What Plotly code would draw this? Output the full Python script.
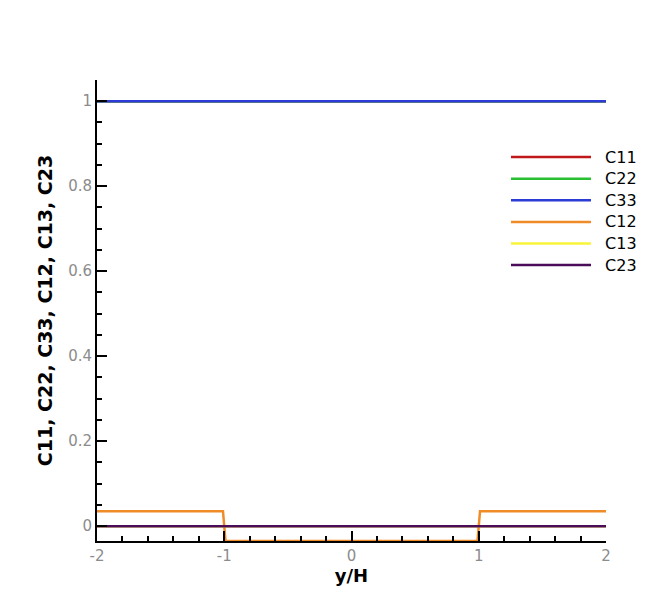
import plotly.graph_objects as go

y_over_h = [-2.0, -1.01, -0.99, 0.99, 1.01, 2.0]
c11 = [1.0, 1.0, 1.0, 1.0, 1.0, 1.0]
c22 = [1.0, 1.0, 1.0, 1.0, 1.0, 1.0]
c33 = [1.0, 1.0, 1.0, 1.0, 1.0, 1.0]
c12 = [0.035, 0.035, -0.035, -0.035, 0.035, 0.035]
c13 = [0.0, 0.0, 0.0, 0.0, 0.0, 0.0]
c23 = [0.0, 0.0, 0.0, 0.0, 0.0, 0.0]

series = [
    ("C11", c11, "#c01818"),
    ("C22", c22, "#28c030"),
    ("C33", c33, "#2a3bd6"),
    ("C12", c12, "#f08c28"),
    ("C13", c13, "#f8f438"),
    ("C23", c23, "#4a0c58"),
]

fig = go.Figure()
for name, vals, col in series:
    label = "\u00a0\u00a0<span style='font-size:16px'>" + name + "</span>"
    fig.add_trace(go.Scatter(x=y_over_h, y=vals, mode="lines", name=label,
                             line=dict(color=col, width=2.5)))

tickfont = dict(family="DejaVu Sans", size=15, color="#8c8c8c")
fig.update_layout(
    width=670, height=599,
    margin=dict(l=97, r=64, t=80, b=58),
    plot_bgcolor="white", paper_bgcolor="white",
    showlegend=True,
    legend=dict(x=0.8035, y=0.867, xanchor="left", yanchor="top",
                font=dict(family="DejaVu Sans", size=14.3, color="black"),
                bgcolor="rgba(0,0,0,0)", itemwidth=80, tracegroupgap=0),
    xaxis=dict(range=[-2, 2], showgrid=False, zeroline=False,
               showline=True, linecolor="black", linewidth=2,
               ticks="inside", ticklen=10, tickwidth=1.5, tickcolor="black",
               tickvals=[-2, -1, 0, 1, 2], ticktext=["-2", "-1", "0", "1", "2"],
               tickfont=tickfont,
               minor=dict(ticks="inside", ticklen=5, tickcolor="black", dtick=0.2, tick0=-2, showgrid=False),
               title=dict(text="<b>y/H</b>", font=dict(family="DejaVu Sans", size=18, color="black"), standoff=4)),
    yaxis=dict(range=[-0.035, 1.05], showgrid=False, zeroline=False,
               showline=True, linecolor="black", linewidth=2,
               ticks="inside", ticklen=10, tickwidth=1.5, tickcolor="black",
               tickvals=[0, 0.2, 0.4, 0.6, 0.8, 1.0], ticktext=["0", "0.2", "0.4", "0.6", "0.8", "1"],
               tickfont=tickfont,
               minor=dict(ticks="inside", ticklen=5, tickcolor="black", dtick=0.05, tick0=0, showgrid=False),
               title=dict(text="<b>C11, C22, C33, C12, C13, C23</b>", font=dict(family="DejaVu Sans", size=19, color="black"), standoff=10)),
)

fig.write_html("out.html")
